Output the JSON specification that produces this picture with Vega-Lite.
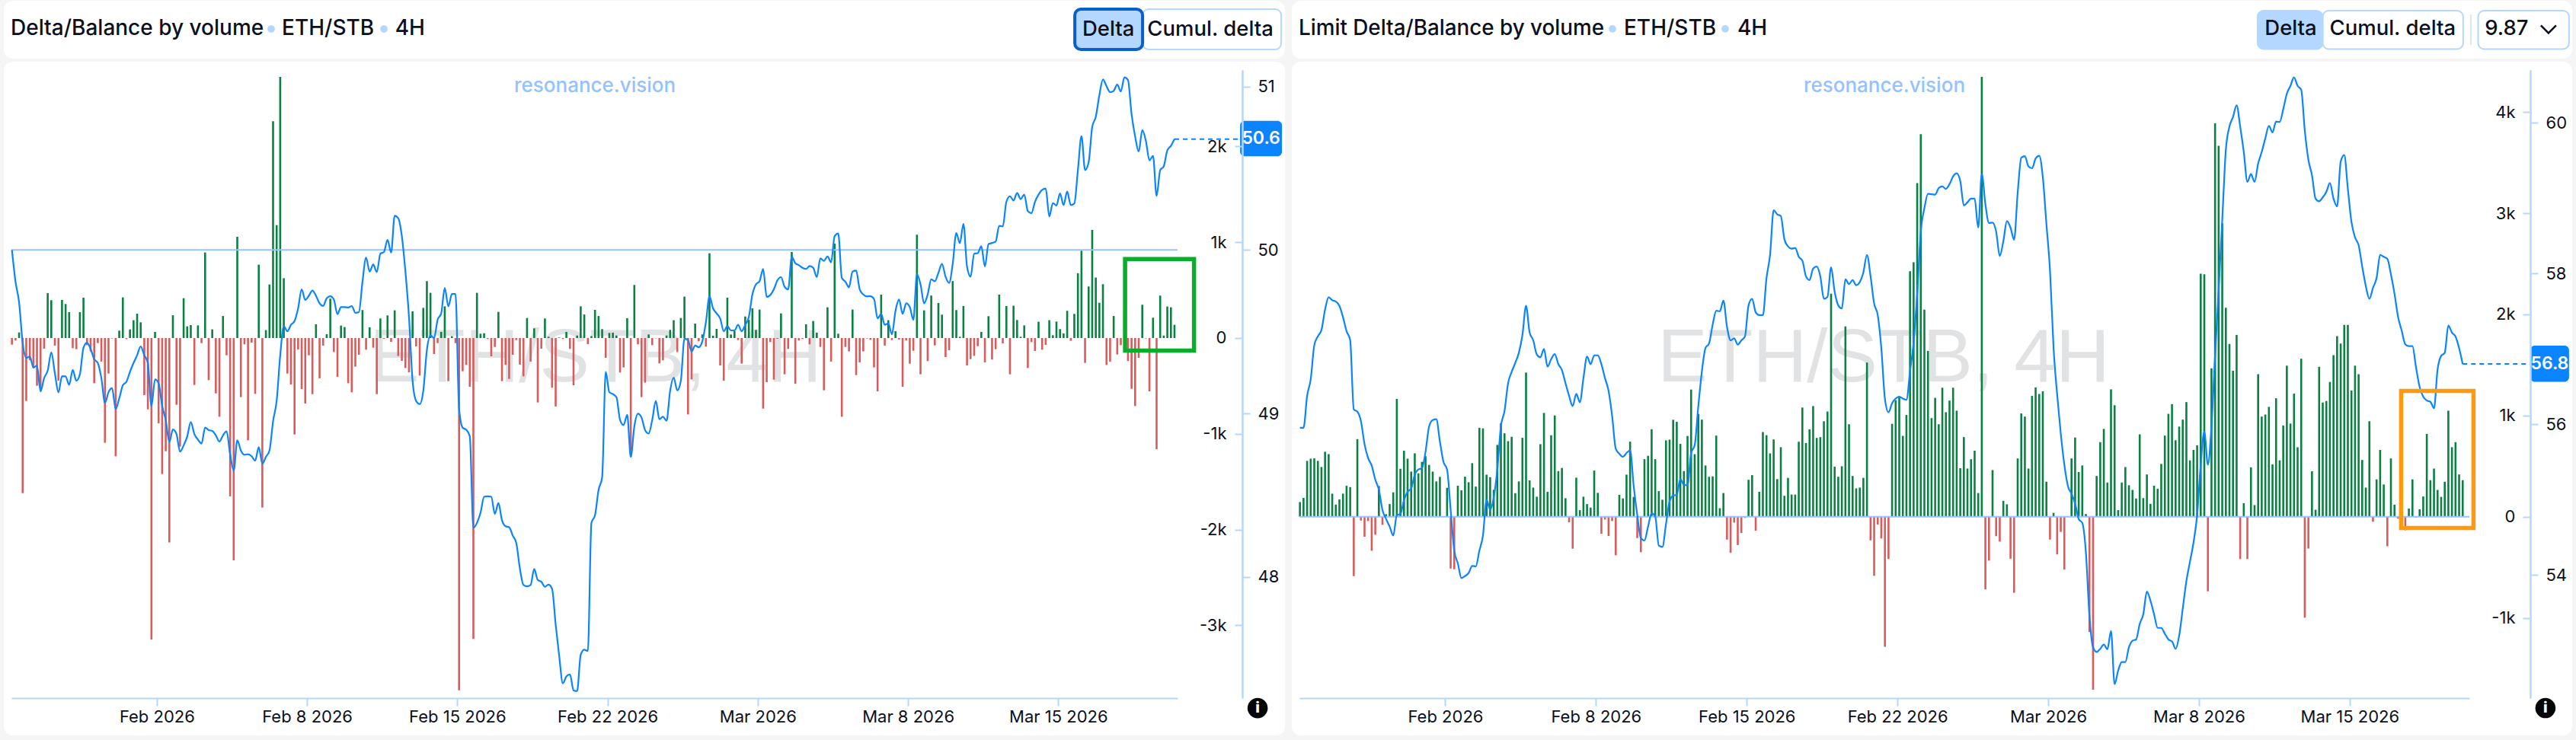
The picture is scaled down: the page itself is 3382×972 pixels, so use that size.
{"$schema":"https://vega.github.io/schema/vega-lite/v6.json","padding":0,"background":"#f5f5f6","spacing":0,"config":{"font":"Inter","view":{"stroke":null},"axis":{"labelFont":"Inter","labelFontSize":22,"labelColor":"#0b1020","domainColor":"#b3d7ff","tickColor":"#b3d7ff","domainWidth":2,"tickWidth":2,"tickSize":10,"grid":false,"title":null,"labelOverlap":false,"labelFlush":false}},
"datasets":{"one":[{}],
"left":[
{"t":"2026-01-25T06:00Z","d":-69,"b":50},{"t":"2026-01-25T10:00Z","d":-26,"b":49.806},{"t":"2026-01-25T14:00Z","d":58,"b":49.68},{"t":"2026-01-25T18:00Z","d":-1620,"b":49.433},{"t":"2026-01-25T22:00Z","d":-657,"b":49.34},
{"t":"2026-01-26T02:00Z","d":-233,"b":49.348},{"t":"2026-01-26T06:00Z","d":-312,"b":49.28},{"t":"2026-01-26T10:00Z","d":-498,"b":49.293},{"t":"2026-01-26T14:00Z","d":-551,"b":49.135},{"t":"2026-01-26T18:00Z","d":-111,"b":49.216},{"t":"2026-01-26T22:00Z","d":469,"b":49.262},
{"t":"2026-01-27T02:00Z","d":395,"b":49.374},{"t":"2026-01-27T06:00Z","d":-80,"b":49.247},{"t":"2026-01-27T10:00Z","d":-445,"b":49.129},{"t":"2026-01-27T14:00Z","d":398,"b":49.228},{"t":"2026-01-27T18:00Z","d":355,"b":49.227},{"t":"2026-01-27T22:00Z","d":270,"b":49.175},
{"t":"2026-01-28T02:00Z","d":-106,"b":49.266},{"t":"2026-01-28T06:00Z","d":-117,"b":49.2},{"t":"2026-01-28T10:00Z","d":270,"b":49.239},{"t":"2026-01-28T14:00Z","d":421,"b":49.402},{"t":"2026-01-28T18:00Z","d":-74,"b":49.433},{"t":"2026-01-28T22:00Z","d":-140,"b":49.394},
{"t":"2026-01-29T02:00Z","d":-472,"b":49.332},{"t":"2026-01-29T06:00Z","d":-53,"b":49.309},{"t":"2026-01-29T10:00Z","d":-246,"b":49.216},{"t":"2026-01-29T14:00Z","d":-1094,"b":49.064},{"t":"2026-01-29T18:00Z","d":-371,"b":49.13},{"t":"2026-01-29T22:00Z","d":-5,"b":49.154},
{"t":"2026-01-30T02:00Z","d":-1235,"b":49.026},{"t":"2026-01-30T06:00Z","d":77,"b":49.092},{"t":"2026-01-30T10:00Z","d":424,"b":49.172},{"t":"2026-01-30T14:00Z","d":-11,"b":49.193},{"t":"2026-01-30T18:00Z","d":90,"b":49.255},{"t":"2026-01-30T22:00Z","d":186,"b":49.309},
{"t":"2026-01-31T02:00Z","d":254,"b":49.356},{"t":"2026-01-31T06:00Z","d":164,"b":49.41},{"t":"2026-01-31T10:00Z","d":-596,"b":49.356},{"t":"2026-01-31T14:00Z","d":-745,"b":49.309},{"t":"2026-01-31T18:00Z","d":-3148,"b":49.045},{"t":"2026-01-31T22:00Z","d":64,"b":49.208},
{"t":"2026-02-01T02:00Z","d":-890,"b":49.185},{"t":"2026-02-01T06:00Z","d":-1420,"b":49.045},{"t":"2026-02-01T10:00Z","d":-1182,"b":48.96},{"t":"2026-02-01T14:00Z","d":-2134,"b":48.825},{"t":"2026-02-01T18:00Z","d":238,"b":48.902},{"t":"2026-02-01T22:00Z","d":-697,"b":48.874},
{"t":"2026-02-02T02:00Z","d":-1134,"b":48.766},{"t":"2026-02-02T06:00Z","d":416,"b":48.804},{"t":"2026-02-02T10:00Z","d":122,"b":48.859},{"t":"2026-02-02T14:00Z","d":135,"b":48.947},{"t":"2026-02-02T18:00Z","d":-490,"b":48.874},{"t":"2026-02-02T22:00Z","d":132,"b":48.84},
{"t":"2026-02-03T02:00Z","d":-53,"b":48.815},{"t":"2026-02-03T06:00Z","d":893,"b":48.913},{"t":"2026-02-03T10:00Z","d":-440,"b":48.898},{"t":"2026-02-03T14:00Z","d":90,"b":48.893},{"t":"2026-02-03T18:00Z","d":-578,"b":48.866},{"t":"2026-02-03T22:00Z","d":-822,"b":48.828},
{"t":"2026-02-04T02:00Z","d":230,"b":48.866},{"t":"2026-02-04T06:00Z","d":-180,"b":48.89},{"t":"2026-02-04T10:00Z","d":-1653,"b":48.75},{"t":"2026-02-04T14:00Z","d":-2321,"b":48.65},{"t":"2026-02-04T18:00Z","d":1057,"b":48.835},{"t":"2026-02-04T22:00Z","d":-617,"b":48.773},
{"t":"2026-02-05T02:00Z","d":-66,"b":48.747},{"t":"2026-02-05T06:00Z","d":-1068,"b":48.75},{"t":"2026-02-05T10:00Z","d":-48,"b":48.738},{"t":"2026-02-05T14:00Z","d":-583,"b":48.711},{"t":"2026-02-05T18:00Z","d":766,"b":48.793},{"t":"2026-02-05T22:00Z","d":-1770,"b":48.693},
{"t":"2026-02-06T02:00Z","d":82,"b":48.734},{"t":"2026-02-06T06:00Z","d":559,"b":48.773},{"t":"2026-02-06T10:00Z","d":2263,"b":48.952},{"t":"2026-02-06T14:00Z","d":1179,"b":49.076},{"t":"2026-02-06T18:00Z","d":2727,"b":49.356},{"t":"2026-02-06T22:00Z","d":625,"b":49.534},
{"t":"2026-02-07T02:00Z","d":-371,"b":49.503},{"t":"2026-02-07T06:00Z","d":-485,"b":49.542},{"t":"2026-02-07T10:00Z","d":-1007,"b":49.565},{"t":"2026-02-07T14:00Z","d":-119,"b":49.643},{"t":"2026-02-07T18:00Z","d":-533,"b":49.759},{"t":"2026-02-07T22:00Z","d":-684,"b":49.694},
{"t":"2026-02-08T02:00Z","d":-180,"b":49.72},{"t":"2026-02-08T06:00Z","d":-586,"b":49.752},{"t":"2026-02-08T10:00Z","d":143,"b":49.72},{"t":"2026-02-08T14:00Z","d":-421,"b":49.674},{"t":"2026-02-08T18:00Z","d":-80,"b":49.658},{"t":"2026-02-08T22:00Z","d":40,"b":49.705},
{"t":"2026-02-09T02:00Z","d":411,"b":49.717},{"t":"2026-02-09T06:00Z","d":-146,"b":49.697},{"t":"2026-02-09T10:00Z","d":-405,"b":49.607},{"t":"2026-02-09T14:00Z","d":130,"b":49.651},{"t":"2026-02-09T18:00Z","d":114,"b":49.651},{"t":"2026-02-09T22:00Z","d":-472,"b":49.648},
{"t":"2026-02-10T02:00Z","d":-567,"b":49.657},{"t":"2026-02-10T06:00Z","d":-299,"b":49.616},{"t":"2026-02-10T10:00Z","d":-175,"b":49.62},{"t":"2026-02-10T14:00Z","d":292,"b":49.806},{"t":"2026-02-10T18:00Z","d":-122,"b":49.953},{"t":"2026-02-10T22:00Z","d":111,"b":49.868},
{"t":"2026-02-11T02:00Z","d":-101,"b":49.911},{"t":"2026-02-11T06:00Z","d":-586,"b":49.865},{"t":"2026-02-11T10:00Z","d":204,"b":49.977},{"t":"2026-02-11T14:00Z","d":-8,"b":49.988},{"t":"2026-02-11T18:00Z","d":236,"b":50.062},{"t":"2026-02-11T22:00Z","d":-40,"b":49.984},
{"t":"2026-02-12T02:00Z","d":289,"b":50.21},{"t":"2026-02-12T06:00Z","d":-188,"b":50.194},{"t":"2026-02-12T10:00Z","d":-238,"b":50.085},{"t":"2026-02-12T14:00Z","d":-313,"b":49.868},{"t":"2026-02-12T18:00Z","d":-358,"b":49.589},{"t":"2026-02-12T22:00Z","d":278,"b":49.2},
{"t":"2026-02-13T02:00Z","d":-87,"b":49.076},{"t":"2026-02-13T06:00Z","d":-392,"b":49.057},{"t":"2026-02-13T10:00Z","d":315,"b":49.138},{"t":"2026-02-13T14:00Z","d":594,"b":49.387},{"t":"2026-02-13T18:00Z","d":472,"b":49.477},{"t":"2026-02-13T22:00Z","d":-167,"b":49.461},
{"t":"2026-02-14T02:00Z","d":-53,"b":49.573},{"t":"2026-02-14T06:00Z","d":64,"b":49.612},{"t":"2026-02-14T10:00Z","d":331,"b":49.767},{"t":"2026-02-14T14:00Z","d":-450,"b":49.655},{"t":"2026-02-14T18:00Z","d":19,"b":49.731},{"t":"2026-02-14T22:00Z","d":-53,"b":49.731},
{"t":"2026-02-15T02:00Z","d":-3678,"b":49.03},{"t":"2026-02-15T06:00Z","d":-347,"b":48.913},{"t":"2026-02-15T10:00Z","d":-281,"b":48.9},{"t":"2026-02-15T14:00Z","d":-509,"b":48.86},{"t":"2026-02-15T18:00Z","d":-3142,"b":48.299},{"t":"2026-02-15T22:00Z","d":472,"b":48.33},
{"t":"2026-02-16T02:00Z","d":45,"b":48.392},{"t":"2026-02-16T06:00Z","d":50,"b":48.49},{"t":"2026-02-16T10:00Z","d":-10,"b":48.493},{"t":"2026-02-16T14:00Z","d":-191,"b":48.49},{"t":"2026-02-16T18:00Z","d":-93,"b":48.385},{"t":"2026-02-16T22:00Z","d":273,"b":48.452},
{"t":"2026-02-17T02:00Z","d":-450,"b":48.346},{"t":"2026-02-17T06:00Z","d":-281,"b":48.31},{"t":"2026-02-17T10:00Z","d":-427,"b":48.304},{"t":"2026-02-17T14:00Z","d":-175,"b":48.253},{"t":"2026-02-17T18:00Z","d":-21,"b":48.206},{"t":"2026-02-17T22:00Z","d":-278,"b":48.051},
{"t":"2026-02-18T02:00Z","d":-400,"b":47.95},{"t":"2026-02-18T06:00Z","d":209,"b":47.942},{"t":"2026-02-18T10:00Z","d":-246,"b":47.95},{"t":"2026-02-18T14:00Z","d":101,"b":48.048},{"t":"2026-02-18T18:00Z","d":-673,"b":47.981},{"t":"2026-02-18T22:00Z","d":-111,"b":47.97},
{"t":"2026-02-19T02:00Z","d":204,"b":47.939},{"t":"2026-02-19T06:00Z","d":13,"b":47.953},{"t":"2026-02-19T10:00Z","d":-519,"b":47.927},{"t":"2026-02-19T14:00Z","d":-715,"b":47.709},{"t":"2026-02-19T18:00Z","d":5,"b":47.515},{"t":"2026-02-19T22:00Z","d":-10,"b":47.349},
{"t":"2026-02-20T02:00Z","d":64,"b":47.391},{"t":"2026-02-20T06:00Z","d":-114,"b":47.403},{"t":"2026-02-20T10:00Z","d":-493,"b":47.306},{"t":"2026-02-20T14:00Z","d":26,"b":47.301},{"t":"2026-02-20T18:00Z","d":331,"b":47.523},{"t":"2026-02-20T22:00Z","d":246,"b":47.554},
{"t":"2026-02-21T02:00Z","d":-64,"b":47.546},{"t":"2026-02-21T06:00Z","d":21,"b":48.33},{"t":"2026-02-21T10:00Z","d":294,"b":48.377},{"t":"2026-02-21T14:00Z","d":230,"b":48.532},{"t":"2026-02-21T18:00Z","d":93,"b":48.61},{"t":"2026-02-21T22:00Z","d":-207,"b":49.255},
{"t":"2026-02-22T02:00Z","d":53,"b":49.13},{"t":"2026-02-22T06:00Z","d":56,"b":49.118},{"t":"2026-02-22T10:00Z","d":26,"b":49.099},{"t":"2026-02-22T14:00Z","d":-360,"b":48.96},{"t":"2026-02-22T18:00Z","d":-307,"b":48.929},{"t":"2026-02-22T22:00Z","d":207,"b":48.991},
{"t":"2026-02-23T02:00Z","d":-1240,"b":48.734},{"t":"2026-02-23T06:00Z","d":554,"b":48.921},{"t":"2026-02-23T10:00Z","d":-66,"b":48.998},{"t":"2026-02-23T14:00Z","d":-617,"b":48.975},{"t":"2026-02-23T18:00Z","d":-466,"b":48.898},{"t":"2026-02-23T22:00Z","d":37,"b":48.877},
{"t":"2026-02-24T02:00Z","d":-74,"b":48.96},{"t":"2026-02-24T06:00Z","d":-3,"b":49.076},{"t":"2026-02-24T10:00Z","d":-265,"b":48.964},{"t":"2026-02-24T14:00Z","d":-233,"b":48.98},{"t":"2026-02-24T18:00Z","d":26,"b":48.955},{"t":"2026-02-24T22:00Z","d":85,"b":49.138},
{"t":"2026-02-25T02:00Z","d":186,"b":49.219},{"t":"2026-02-25T06:00Z","d":-146,"b":49.141},{"t":"2026-02-25T10:00Z","d":209,"b":49.2},{"t":"2026-02-25T14:00Z","d":432,"b":49.457},{"t":"2026-02-25T18:00Z","d":-798,"b":49.449},{"t":"2026-02-25T22:00Z","d":-432,"b":49.379},
{"t":"2026-02-26T02:00Z","d":151,"b":49.415},{"t":"2026-02-26T06:00Z","d":-34,"b":49.405},{"t":"2026-02-26T10:00Z","d":37,"b":49.441},{"t":"2026-02-26T14:00Z","d":-90,"b":49.557},{"t":"2026-02-26T18:00Z","d":885,"b":49.717},{"t":"2026-02-26T22:00Z","d":24,"b":49.643},
{"t":"2026-02-27T02:00Z","d":95,"b":49.612},{"t":"2026-02-27T06:00Z","d":-286,"b":49.581},{"t":"2026-02-27T10:00Z","d":-445,"b":49.503},{"t":"2026-02-27T14:00Z","d":421,"b":49.534},{"t":"2026-02-27T18:00Z","d":37,"b":49.508},{"t":"2026-02-27T22:00Z","d":72,"b":49.508},
{"t":"2026-02-28T02:00Z","d":-21,"b":49.542},{"t":"2026-02-28T06:00Z","d":-268,"b":49.503},{"t":"2026-02-28T10:00Z","d":225,"b":49.542},{"t":"2026-02-28T14:00Z","d":190,"b":49.589},{"t":"2026-02-28T18:00Z","d":310,"b":49.728},{"t":"2026-02-28T22:00Z","d":85,"b":49.79},
{"t":"2026-03-01T02:00Z","d":297,"b":49.809},{"t":"2026-03-01T06:00Z","d":-737,"b":49.884},{"t":"2026-03-01T10:00Z","d":-461,"b":49.713},{"t":"2026-03-01T14:00Z","d":-42,"b":49.724},{"t":"2026-03-01T18:00Z","d":-435,"b":49.759},{"t":"2026-03-01T22:00Z","d":-8,"b":49.814},
{"t":"2026-03-02T02:00Z","d":257,"b":49.834},{"t":"2026-03-02T06:00Z","d":-379,"b":49.775},{"t":"2026-03-02T10:00Z","d":-114,"b":49.759},{"t":"2026-03-02T14:00Z","d":898,"b":49.958},{"t":"2026-03-02T18:00Z","d":-477,"b":49.919},{"t":"2026-03-02T22:00Z","d":-26,"b":49.907},
{"t":"2026-03-03T02:00Z","d":-10,"b":49.891},{"t":"2026-03-03T06:00Z","d":143,"b":49.884},{"t":"2026-03-03T10:00Z","d":-66,"b":49.902},{"t":"2026-03-03T14:00Z","d":178,"b":49.891},{"t":"2026-03-03T18:00Z","d":56,"b":49.834},{"t":"2026-03-03T22:00Z","d":-93,"b":49.949},
{"t":"2026-03-04T02:00Z","d":-546,"b":49.933},{"t":"2026-03-04T06:00Z","d":321,"b":49.96},{"t":"2026-03-04T10:00Z","d":-246,"b":49.925},{"t":"2026-03-04T14:00Z","d":986,"b":50.085},{"t":"2026-03-04T18:00Z","d":45,"b":50.101},{"t":"2026-03-04T22:00Z","d":-822,"b":49.829},
{"t":"2026-03-05T02:00Z","d":-93,"b":49.806},{"t":"2026-03-05T06:00Z","d":-140,"b":49.772},{"t":"2026-03-05T10:00Z","d":297,"b":49.868},{"t":"2026-03-05T14:00Z","d":-387,"b":49.874},{"t":"2026-03-05T18:00Z","d":-254,"b":49.759},{"t":"2026-03-05T22:00Z","d":-140,"b":49.728},
{"t":"2026-03-06T02:00Z","d":-5,"b":49.716},{"t":"2026-03-06T06:00Z","d":-19,"b":49.717},{"t":"2026-03-06T10:00Z","d":-307,"b":49.7},{"t":"2026-03-06T14:00Z","d":-557,"b":49.581},{"t":"2026-03-06T18:00Z","d":453,"b":49.609},{"t":"2026-03-06T22:00Z","d":-80,"b":49.542},
{"t":"2026-03-07T02:00Z","d":186,"b":49.55},{"t":"2026-03-07T06:00Z","d":-21,"b":49.484},{"t":"2026-03-07T10:00Z","d":72,"b":49.627},{"t":"2026-03-07T14:00Z","d":-16,"b":49.697},{"t":"2026-03-07T18:00Z","d":-509,"b":49.609},{"t":"2026-03-07T22:00Z","d":-26,"b":49.674},
{"t":"2026-03-08T02:00Z","d":-268,"b":49.651},{"t":"2026-03-08T06:00Z","d":-133,"b":49.573},{"t":"2026-03-08T10:00Z","d":1079,"b":49.852},{"t":"2026-03-08T14:00Z","d":-379,"b":49.79},{"t":"2026-03-08T18:00Z","d":289,"b":49.674},{"t":"2026-03-08T22:00Z","d":-241,"b":49.728},
{"t":"2026-03-09T02:00Z","d":443,"b":49.821},{"t":"2026-03-09T06:00Z","d":-77,"b":49.809},{"t":"2026-03-09T10:00Z","d":366,"b":49.86},{"t":"2026-03-09T14:00Z","d":244,"b":49.915},{"t":"2026-03-09T18:00Z","d":-199,"b":49.837},{"t":"2026-03-09T22:00Z","d":-127,"b":49.798},
{"t":"2026-03-10T02:00Z","d":594,"b":49.915},{"t":"2026-03-10T06:00Z","d":292,"b":50.104},{"t":"2026-03-10T10:00Z","d":13,"b":50.042},{"t":"2026-03-10T14:00Z","d":334,"b":50.16},{"t":"2026-03-10T18:00Z","d":-286,"b":49.899},{"t":"2026-03-10T22:00Z","d":-220,"b":49.837},
{"t":"2026-03-11T02:00Z","d":-186,"b":49.977},{"t":"2026-03-11T06:00Z","d":-85,"b":49.981},{"t":"2026-03-11T10:00Z","d":64,"b":50.023},{"t":"2026-03-11T14:00Z","d":-254,"b":49.899},{"t":"2026-03-11T18:00Z","d":228,"b":50.036},{"t":"2026-03-11T22:00Z","d":-225,"b":50.043},
{"t":"2026-03-12T02:00Z","d":-117,"b":50.051},{"t":"2026-03-12T06:00Z","d":453,"b":50.148},{"t":"2026-03-12T10:00Z","d":-56,"b":50.144},{"t":"2026-03-12T14:00Z","d":334,"b":50.295},{"t":"2026-03-12T18:00Z","d":-379,"b":50.329},{"t":"2026-03-12T22:00Z","d":337,"b":50.303},
{"t":"2026-03-13T02:00Z","d":188,"b":50.349},{"t":"2026-03-13T06:00Z","d":13,"b":50.311},{"t":"2026-03-13T10:00Z","d":132,"b":50.339},{"t":"2026-03-13T14:00Z","d":-313,"b":50.238},{"t":"2026-03-13T18:00Z","d":-42,"b":50.225},{"t":"2026-03-13T22:00Z","d":-135,"b":50.295},
{"t":"2026-03-14T02:00Z","d":170,"b":50.339},{"t":"2026-03-14T06:00Z","d":-122,"b":50.368},{"t":"2026-03-14T10:00Z","d":-72,"b":50.376},{"t":"2026-03-14T14:00Z","d":186,"b":50.205},{"t":"2026-03-14T18:00Z","d":29,"b":50.287},{"t":"2026-03-14T22:00Z","d":172,"b":50.272},
{"t":"2026-03-15T02:00Z","d":93,"b":50.346},{"t":"2026-03-15T06:00Z","d":48,"b":50.275},{"t":"2026-03-15T10:00Z","d":284,"b":50.357},{"t":"2026-03-15T14:00Z","d":-29,"b":50.275},{"t":"2026-03-15T18:00Z","d":252,"b":50.284},{"t":"2026-03-15T22:00Z","d":676,"b":50.489},
{"t":"2026-03-16T02:00Z","d":912,"b":50.696},{"t":"2026-03-16T06:00Z","d":-260,"b":50.489},{"t":"2026-03-16T10:00Z","d":538,"b":50.536},{"t":"2026-03-16T14:00Z","d":1129,"b":50.753},{"t":"2026-03-16T18:00Z","d":631,"b":50.815},{"t":"2026-03-16T22:00Z","d":368,"b":50.947},
{"t":"2026-03-17T02:00Z","d":562,"b":51.043},{"t":"2026-03-17T06:00Z","d":-281,"b":51.002},{"t":"2026-03-17T10:00Z","d":-246,"b":50.966},{"t":"2026-03-17T14:00Z","d":230,"b":50.974},{"t":"2026-03-17T18:00Z","d":-172,"b":51.012},{"t":"2026-03-17T22:00Z","d":-74,"b":50.97},
{"t":"2026-03-18T02:00Z","d":250,"b":51.056},{"t":"2026-03-18T06:00Z","d":-241,"b":51.04},{"t":"2026-03-18T10:00Z","d":-530,"b":50.831},{"t":"2026-03-18T14:00Z","d":-710,"b":50.694},{"t":"2026-03-18T18:00Z","d":-207,"b":50.602},{"t":"2026-03-18T22:00Z","d":347,"b":50.734},
{"t":"2026-03-19T02:00Z","d":-5,"b":50.668},{"t":"2026-03-19T06:00Z","d":-557,"b":50.548},{"t":"2026-03-19T10:00Z","d":212,"b":50.575},{"t":"2026-03-19T14:00Z","d":-1161,"b":50.331},{"t":"2026-03-19T18:00Z","d":443,"b":50.489},{"t":"2026-03-19T22:00Z","d":26,"b":50.512},
{"t":"2026-03-20T02:00Z","d":329,"b":50.61},{"t":"2026-03-20T06:00Z","d":321,"b":50.637},{"t":"2026-03-20T10:00Z","d":138,"b":50.679}],
"right":[
{"t":"2026-01-25T06:00Z","d":145,"b":55.95},{"t":"2026-01-25T10:00Z","d":186,"b":55.95},{"t":"2026-01-25T14:00Z","d":552,"b":56.374},{"t":"2026-01-25T18:00Z","d":574,"b":56.593},{"t":"2026-01-25T22:00Z","d":577,"b":57.047},
{"t":"2026-01-26T02:00Z","d":552,"b":57.165},{"t":"2026-01-26T06:00Z","d":492,"b":57.249},{"t":"2026-01-26T10:00Z","d":642,"b":57.519},{"t":"2026-01-26T14:00Z","d":619,"b":57.684},{"t":"2026-01-26T18:00Z","d":228,"b":57.643},{"t":"2026-01-26T22:00Z","d":120,"b":57.626},
{"t":"2026-01-27T02:00Z","d":171,"b":57.569},{"t":"2026-01-27T06:00Z","d":228,"b":57.418},{"t":"2026-01-27T10:00Z","d":306,"b":57.232},{"t":"2026-01-27T14:00Z","d":293,"b":57.114},{"t":"2026-01-27T18:00Z","d":-587,"b":56.195},{"t":"2026-01-27T22:00Z","d":767,"b":56.165},
{"t":"2026-01-28T02:00Z","d":-38,"b":56.037},{"t":"2026-01-28T06:00Z","d":-198,"b":55.734},{"t":"2026-01-28T10:00Z","d":-43,"b":55.549},{"t":"2026-01-28T14:00Z","d":-336,"b":55.448},{"t":"2026-01-28T18:00Z","d":-178,"b":55.263},{"t":"2026-01-28T22:00Z","d":303,"b":55.128},
{"t":"2026-01-29T02:00Z","d":-80,"b":54.859},{"t":"2026-01-29T06:00Z","d":25,"b":54.741},{"t":"2026-01-29T10:00Z","d":125,"b":54.64},{"t":"2026-01-29T14:00Z","d":241,"b":54.522},{"t":"2026-01-29T18:00Z","d":1164,"b":54.791},{"t":"2026-01-29T22:00Z","d":474,"b":54.808},
{"t":"2026-01-30T02:00Z","d":652,"b":54.993},{"t":"2026-01-30T06:00Z","d":574,"b":55.101},{"t":"2026-01-30T10:00Z","d":446,"b":55.145},{"t":"2026-01-30T14:00Z","d":627,"b":55.33},{"t":"2026-01-30T18:00Z","d":429,"b":55.397},{"t":"2026-01-30T22:00Z","d":542,"b":55.414},
{"t":"2026-01-31T02:00Z","d":599,"b":55.633},{"t":"2026-01-31T06:00Z","d":512,"b":55.97},{"t":"2026-01-31T10:00Z","d":446,"b":56.054},{"t":"2026-01-31T14:00Z","d":349,"b":56.064},{"t":"2026-01-31T18:00Z","d":394,"b":55.768},{"t":"2026-01-31T22:00Z","d":-3,"b":55.498},
{"t":"2026-02-01T02:00Z","d":286,"b":55.397},{"t":"2026-02-01T06:00Z","d":-512,"b":54.859},{"t":"2026-02-01T10:00Z","d":-519,"b":54.32},{"t":"2026-02-01T14:00Z","d":306,"b":54.152},{"t":"2026-02-01T18:00Z","d":261,"b":53.956},{"t":"2026-02-01T22:00Z","d":396,"b":53.983},
{"t":"2026-02-02T02:00Z","d":341,"b":54.024},{"t":"2026-02-02T06:00Z","d":529,"b":54.118},{"t":"2026-02-02T10:00Z","d":298,"b":54.111},{"t":"2026-02-02T14:00Z","d":878,"b":54.32},{"t":"2026-02-02T18:00Z","d":873,"b":54.522},{"t":"2026-02-02T22:00Z","d":416,"b":54.993},
{"t":"2026-02-03T02:00Z","d":391,"b":54.865},{"t":"2026-02-03T06:00Z","d":266,"b":55.027},{"t":"2026-02-03T10:00Z","d":710,"b":55.397},{"t":"2026-02-03T14:00Z","d":925,"b":55.97},{"t":"2026-02-03T18:00Z","d":825,"b":56.172},{"t":"2026-02-03T22:00Z","d":747,"b":56.542},
{"t":"2026-02-04T02:00Z","d":790,"b":56.694},{"t":"2026-02-04T06:00Z","d":233,"b":56.812},{"t":"2026-02-04T10:00Z","d":349,"b":56.946},{"t":"2026-02-04T14:00Z","d":780,"b":57.182},{"t":"2026-02-04T18:00Z","d":1425,"b":57.569},{"t":"2026-02-04T22:00Z","d":359,"b":57.216},
{"t":"2026-02-05T02:00Z","d":288,"b":57.114},{"t":"2026-02-05T06:00Z","d":198,"b":56.923},{"t":"2026-02-05T10:00Z","d":717,"b":56.886},{"t":"2026-02-05T14:00Z","d":1026,"b":56.997},{"t":"2026-02-05T18:00Z","d":246,"b":56.761},{"t":"2026-02-05T22:00Z","d":805,"b":56.862},
{"t":"2026-02-06T02:00Z","d":1001,"b":56.929},{"t":"2026-02-06T06:00Z","d":451,"b":56.795},{"t":"2026-02-06T10:00Z","d":482,"b":56.717},{"t":"2026-02-06T14:00Z","d":183,"b":56.542},{"t":"2026-02-06T18:00Z","d":-55,"b":56.374},{"t":"2026-02-06T22:00Z","d":-316,"b":56.239},
{"t":"2026-02-07T02:00Z","d":386,"b":56.401},{"t":"2026-02-07T06:00Z","d":65,"b":56.29},{"t":"2026-02-07T10:00Z","d":198,"b":56.61},{"t":"2026-02-07T14:00Z","d":125,"b":56.896},{"t":"2026-02-07T18:00Z","d":90,"b":56.795},{"t":"2026-02-07T22:00Z","d":456,"b":56.912},
{"t":"2026-02-08T02:00Z","d":236,"b":56.912},{"t":"2026-02-08T06:00Z","d":-168,"b":56.795},{"t":"2026-02-08T10:00Z","d":-28,"b":56.61},{"t":"2026-02-08T14:00Z","d":-191,"b":56.441},{"t":"2026-02-08T18:00Z","d":-43,"b":56.104},{"t":"2026-02-08T22:00Z","d":-381,"b":55.673},
{"t":"2026-02-09T02:00Z","d":216,"b":55.606},{"t":"2026-02-09T06:00Z","d":181,"b":55.566},{"t":"2026-02-09T10:00Z","d":416,"b":55.616},{"t":"2026-02-09T14:00Z","d":742,"b":55.65},{"t":"2026-02-09T18:00Z","d":196,"b":55.178},{"t":"2026-02-09T22:00Z","d":-211,"b":54.791},
{"t":"2026-02-10T02:00Z","d":-351,"b":54.488},{"t":"2026-02-10T06:00Z","d":569,"b":54.455},{"t":"2026-02-10T10:00Z","d":602,"b":54.64},{"t":"2026-02-10T14:00Z","d":865,"b":54.818},{"t":"2026-02-10T18:00Z","d":569,"b":54.774},{"t":"2026-02-10T22:00Z","d":253,"b":54.387},
{"t":"2026-02-11T02:00Z","d":168,"b":54.37},{"t":"2026-02-11T06:00Z","d":755,"b":54.673},{"t":"2026-02-11T10:00Z","d":762,"b":54.976},{"t":"2026-02-11T14:00Z","d":958,"b":55.051},{"t":"2026-02-11T18:00Z","d":938,"b":55.061},{"t":"2026-02-11T22:00Z","d":720,"b":55.269},
{"t":"2026-02-12T02:00Z","d":451,"b":55.195},{"t":"2026-02-12T06:00Z","d":798,"b":55.189},{"t":"2026-02-12T10:00Z","d":1257,"b":55.616},{"t":"2026-02-12T14:00Z","d":618,"b":55.72},{"t":"2026-02-12T18:00Z","d":1017,"b":56.235},{"t":"2026-02-12T22:00Z","d":960,"b":56.698},
{"t":"2026-02-13T02:00Z","d":507,"b":57.008},{"t":"2026-02-13T06:00Z","d":395,"b":57.07},{"t":"2026-02-13T10:00Z","d":399,"b":57.317},{"t":"2026-02-13T14:00Z","d":802,"b":57.503},{"t":"2026-02-13T18:00Z","d":84,"b":57.497},{"t":"2026-02-13T22:00Z","d":234,"b":57.637},
{"t":"2026-02-14T02:00Z","d":-226,"b":57.291},{"t":"2026-02-14T06:00Z","d":-357,"b":57.111},{"t":"2026-02-14T10:00Z","d":-58,"b":57.137},{"t":"2026-02-14T14:00Z","d":-280,"b":57.054},{"t":"2026-02-14T18:00Z","d":-161,"b":57.111},{"t":"2026-02-14T22:00Z","d":-12,"b":57.162},
{"t":"2026-02-15T02:00Z","d":365,"b":57.575},{"t":"2026-02-15T06:00Z","d":411,"b":57.662},{"t":"2026-02-15T10:00Z","d":-138,"b":57.482},{"t":"2026-02-15T14:00Z","d":246,"b":57.446},{"t":"2026-02-15T18:00Z","d":837,"b":57.446},{"t":"2026-02-15T22:00Z","d":806,"b":57.936},
{"t":"2026-02-16T02:00Z","d":626,"b":58.245},{"t":"2026-02-16T06:00Z","d":764,"b":58.838},{"t":"2026-02-16T10:00Z","d":372,"b":58.781},{"t":"2026-02-16T14:00Z","d":687,"b":58.76},{"t":"2026-02-16T18:00Z","d":207,"b":58.451},{"t":"2026-02-16T22:00Z","d":384,"b":58.358},
{"t":"2026-02-17T02:00Z","d":219,"b":58.327},{"t":"2026-02-17T06:00Z","d":219,"b":58.338},{"t":"2026-02-17T10:00Z","d":741,"b":58.219},{"t":"2026-02-17T14:00Z","d":1079,"b":58.168},{"t":"2026-02-17T18:00Z","d":729,"b":57.961},{"t":"2026-02-17T22:00Z","d":864,"b":57.91},
{"t":"2026-02-18T02:00Z","d":1094,"b":58.064},{"t":"2026-02-18T06:00Z","d":779,"b":58.09},{"t":"2026-02-18T10:00Z","d":787,"b":57.961},{"t":"2026-02-18T14:00Z","d":944,"b":57.662},{"t":"2026-02-18T18:00Z","d":1040,"b":57.688},{"t":"2026-02-18T22:00Z","d":2204,"b":58.08},
{"t":"2026-02-19T02:00Z","d":495,"b":57.755},{"t":"2026-02-19T06:00Z","d":395,"b":57.575},{"t":"2026-02-19T10:00Z","d":499,"b":57.534},{"t":"2026-02-19T14:00Z","d":1881,"b":57.92},{"t":"2026-02-19T18:00Z","d":914,"b":57.858},{"t":"2026-02-19T22:00Z","d":403,"b":57.91},
{"t":"2026-02-20T02:00Z","d":280,"b":57.843},{"t":"2026-02-20T06:00Z","d":288,"b":57.884},{"t":"2026-02-20T10:00Z","d":384,"b":58.013},{"t":"2026-02-20T14:00Z","d":1524,"b":58.245},{"t":"2026-02-20T18:00Z","d":-234,"b":57.961},{"t":"2026-02-20T22:00Z","d":-584,"b":57.6},
{"t":"2026-02-21T02:00Z","d":-77,"b":57.446},{"t":"2026-02-21T06:00Z","d":-215,"b":57.008},{"t":"2026-02-21T10:00Z","d":-1286,"b":56.338},{"t":"2026-02-21T14:00Z","d":-418,"b":56.157},{"t":"2026-02-21T18:00Z","d":918,"b":56.276},{"t":"2026-02-21T22:00Z","d":1152,"b":56.338},
{"t":"2026-02-22T02:00Z","d":1190,"b":56.363},{"t":"2026-02-22T06:00Z","d":799,"b":56.338},{"t":"2026-02-22T10:00Z","d":1006,"b":56.322},{"t":"2026-02-22T14:00Z","d":2426,"b":56.698},{"t":"2026-02-22T18:00Z","d":2515,"b":57.085},{"t":"2026-02-22T22:00Z","d":3298,"b":57.729},
{"t":"2026-02-23T02:00Z","d":3781,"b":58.554},{"t":"2026-02-23T06:00Z","d":2046,"b":58.863},{"t":"2026-02-23T10:00Z","d":1639,"b":59.054},{"t":"2026-02-23T14:00Z","d":975,"b":59.049},{"t":"2026-02-23T18:00Z","d":1175,"b":59.044},{"t":"2026-02-23T22:00Z","d":914,"b":59.131},
{"t":"2026-02-24T02:00Z","d":1275,"b":59.152},{"t":"2026-02-24T06:00Z","d":1033,"b":59.121},{"t":"2026-02-24T10:00Z","d":1148,"b":59.183},{"t":"2026-02-24T14:00Z","d":1275,"b":59.286},{"t":"2026-02-24T18:00Z","d":1048,"b":59.327},{"t":"2026-02-24T22:00Z","d":480,"b":59.224},
{"t":"2026-02-25T02:00Z","d":787,"b":58.9},{"t":"2026-02-25T06:00Z","d":476,"b":58.941},{"t":"2026-02-25T10:00Z","d":568,"b":58.992},{"t":"2026-02-25T14:00Z","d":653,"b":58.992},{"t":"2026-02-25T18:00Z","d":234,"b":58.606},{"t":"2026-02-25T22:00Z","d":4347,"b":59.317},
{"t":"2026-02-26T02:00Z","d":-718,"b":58.915},{"t":"2026-02-26T06:00Z","d":-434,"b":58.668},{"t":"2026-02-26T10:00Z","d":461,"b":58.673},{"t":"2026-02-26T14:00Z","d":-192,"b":58.554},{"t":"2026-02-26T18:00Z","d":-246,"b":58.229},{"t":"2026-02-26T22:00Z","d":157,"b":58.425},
{"t":"2026-02-27T02:00Z","d":123,"b":58.693},{"t":"2026-02-27T06:00Z","d":-415,"b":58.606},{"t":"2026-02-27T10:00Z","d":-752,"b":58.446},{"t":"2026-02-27T14:00Z","d":576,"b":59.07},{"t":"2026-02-27T18:00Z","d":1021,"b":59.534},{"t":"2026-02-27T22:00Z","d":990,"b":59.554},
{"t":"2026-02-28T02:00Z","d":476,"b":59.42},{"t":"2026-02-28T06:00Z","d":1194,"b":59.394},{"t":"2026-02-28T10:00Z","d":1278,"b":59.523},{"t":"2026-02-28T14:00Z","d":1213,"b":59.559},{"t":"2026-02-28T18:00Z","d":1240,"b":59.276},{"t":"2026-02-28T22:00Z","d":346,"b":58.657},
{"t":"2026-03-01T02:00Z","d":-226,"b":58.039},{"t":"2026-03-01T06:00Z","d":38,"b":57.008},{"t":"2026-03-01T10:00Z","d":-372,"b":56.389},{"t":"2026-03-01T14:00Z","d":-150,"b":55.874},{"t":"2026-03-01T18:00Z","d":-522,"b":55.461},{"t":"2026-03-01T22:00Z","d":-4,"b":55.178},
{"t":"2026-03-02T02:00Z","d":576,"b":55.075},{"t":"2026-03-02T06:00Z","d":783,"b":54.946},{"t":"2026-03-02T10:00Z","d":441,"b":54.74},{"t":"2026-03-02T14:00Z","d":507,"b":54.688},{"t":"2026-03-02T18:00Z","d":27,"b":54.302},{"t":"2026-03-02T22:00Z","d":-1140,"b":53.451},
{"t":"2026-03-03T02:00Z","d":-1711,"b":53.039},{"t":"2026-03-03T06:00Z","d":403,"b":52.977},{"t":"2026-03-03T10:00Z","d":737,"b":53.018},{"t":"2026-03-03T14:00Z","d":868,"b":53.075},{"t":"2026-03-03T18:00Z","d":338,"b":53.013},{"t":"2026-03-03T22:00Z","d":1259,"b":53.255},
{"t":"2026-03-04T02:00Z","d":1102,"b":52.549},{"t":"2026-03-04T06:00Z","d":65,"b":52.73},{"t":"2026-03-04T10:00Z","d":338,"b":52.843},{"t":"2026-03-04T14:00Z","d":491,"b":52.843},{"t":"2026-03-04T18:00Z","d":311,"b":53.039},{"t":"2026-03-04T22:00Z","d":265,"b":53.126},
{"t":"2026-03-05T02:00Z","d":180,"b":53.142},{"t":"2026-03-05T06:00Z","d":814,"b":53.348},{"t":"2026-03-05T10:00Z","d":184,"b":53.477},{"t":"2026-03-05T14:00Z","d":418,"b":53.776},{"t":"2026-03-05T18:00Z","d":127,"b":53.657},{"t":"2026-03-05T22:00Z","d":307,"b":53.477},
{"t":"2026-03-06T02:00Z","d":276,"b":53.296},{"t":"2026-03-06T06:00Z","d":522,"b":53.296},{"t":"2026-03-06T10:00Z","d":802,"b":53.219},{"t":"2026-03-06T14:00Z","d":1017,"b":53.142},{"t":"2026-03-06T18:00Z","d":1113,"b":53.116},{"t":"2026-03-06T22:00Z","d":756,"b":53.018},
{"t":"2026-03-07T02:00Z","d":891,"b":53.193},{"t":"2026-03-07T06:00Z","d":960,"b":53.554},{"t":"2026-03-07T10:00Z","d":1133,"b":53.915},{"t":"2026-03-07T14:00Z","d":557,"b":54.173},{"t":"2026-03-07T18:00Z","d":660,"b":54.43},{"t":"2026-03-07T22:00Z","d":706,"b":54.791},
{"t":"2026-03-08T02:00Z","d":2403,"b":55.461},{"t":"2026-03-08T06:00Z","d":2396,"b":55.9},{"t":"2026-03-08T10:00Z","d":-737,"b":55.461},{"t":"2026-03-08T14:00Z","d":1467,"b":55.977},{"t":"2026-03-08T18:00Z","d":3889,"b":56.905},{"t":"2026-03-08T22:00Z","d":3666,"b":57.781},
{"t":"2026-03-09T02:00Z","d":2900,"b":58.709},{"t":"2026-03-09T06:00Z","d":2065,"b":59.637},{"t":"2026-03-09T10:00Z","d":1708,"b":59.946},{"t":"2026-03-09T14:00Z","d":1443,"b":60.075},{"t":"2026-03-09T18:00Z","d":1797,"b":60.229},{"t":"2026-03-09T22:00Z","d":-418,"b":59.946},
{"t":"2026-03-10T02:00Z","d":134,"b":59.611},{"t":"2026-03-10T06:00Z","d":-418,"b":59.214},{"t":"2026-03-10T10:00Z","d":488,"b":59.317},{"t":"2026-03-10T14:00Z","d":115,"b":59.214},{"t":"2026-03-10T18:00Z","d":1409,"b":59.456},{"t":"2026-03-10T22:00Z","d":990,"b":59.611},
{"t":"2026-03-11T02:00Z","d":1010,"b":59.791},{"t":"2026-03-11T06:00Z","d":1086,"b":59.956},{"t":"2026-03-11T10:00Z","d":518,"b":59.869},{"t":"2026-03-11T14:00Z","d":1171,"b":60.013},{"t":"2026-03-11T18:00Z","d":557,"b":60.008},{"t":"2026-03-11T22:00Z","d":902,"b":60.178},
{"t":"2026-03-12T02:00Z","d":1493,"b":60.384},{"t":"2026-03-12T06:00Z","d":921,"b":60.487},{"t":"2026-03-12T10:00Z","d":1217,"b":60.6},{"t":"2026-03-12T14:00Z","d":687,"b":60.487},{"t":"2026-03-12T18:00Z","d":1562,"b":60.436},{"t":"2026-03-12T22:00Z","d":-998,"b":59.894},
{"t":"2026-03-13T02:00Z","d":-315,"b":59.508},{"t":"2026-03-13T06:00Z","d":449,"b":59.302},{"t":"2026-03-13T10:00Z","d":69,"b":58.992},{"t":"2026-03-13T14:00Z","d":1482,"b":58.956},{"t":"2026-03-13T18:00Z","d":1129,"b":59.008},{"t":"2026-03-13T22:00Z","d":1144,"b":59.08},
{"t":"2026-03-14T02:00Z","d":1332,"b":59.198},{"t":"2026-03-14T06:00Z","d":1597,"b":58.992},{"t":"2026-03-14T10:00Z","d":1785,"b":58.889},{"t":"2026-03-14T14:00Z","d":1712,"b":59.482},{"t":"2026-03-14T18:00Z","d":1896,"b":59.57},{"t":"2026-03-14T22:00Z","d":1896,"b":59.121},
{"t":"2026-03-15T02:00Z","d":1248,"b":58.683},{"t":"2026-03-15T06:00Z","d":1493,"b":58.477},{"t":"2026-03-15T10:00Z","d":1409,"b":58.374},{"t":"2026-03-15T14:00Z","d":561,"b":58.09},{"t":"2026-03-15T18:00Z","d":288,"b":57.832},{"t":"2026-03-15T22:00Z","d":944,"b":57.662},
{"t":"2026-03-16T02:00Z","d":-50,"b":57.807},{"t":"2026-03-16T06:00Z","d":369,"b":57.936},{"t":"2026-03-16T10:00Z","d":660,"b":58.245},{"t":"2026-03-16T14:00Z","d":319,"b":58.219},{"t":"2026-03-16T18:00Z","d":-292,"b":58.193},{"t":"2026-03-16T22:00Z","d":576,"b":57.987},
{"t":"2026-03-17T02:00Z","d":119,"b":57.729},{"t":"2026-03-17T06:00Z","d":-19,"b":57.42},{"t":"2026-03-17T10:00Z","d":5,"b":57.24},{"t":"2026-03-17T14:00Z","d":-134,"b":57.059},{"t":"2026-03-17T18:00Z","d":81,"b":57.034},{"t":"2026-03-17T22:00Z","d":369,"b":57.034},
{"t":"2026-03-18T02:00Z","d":-8,"b":56.75},{"t":"2026-03-18T06:00Z","d":73,"b":56.492},{"t":"2026-03-18T10:00Z","d":200,"b":56.363},{"t":"2026-03-18T14:00Z","d":818,"b":56.312},{"t":"2026-03-18T18:00Z","d":361,"b":56.296},{"t":"2026-03-18T22:00Z","d":476,"b":56.209},
{"t":"2026-03-19T02:00Z","d":265,"b":56.724},{"t":"2026-03-19T06:00Z","d":196,"b":56.905},{"t":"2026-03-19T10:00Z","d":346,"b":56.946},{"t":"2026-03-19T14:00Z","d":1048,"b":57.307},{"t":"2026-03-19T18:00Z","d":687,"b":57.214},{"t":"2026-03-19T22:00Z","d":737,"b":57.162},
{"t":"2026-03-20T02:00Z","d":418,"b":57.008},{"t":"2026-03-20T06:00Z","d":361,"b":56.796}]
},
"hconcat":[
{"width":1531,"height":825,"resolve":{"scale":{"y":"independent"}},"layer":[
{"layer":[
{"data":{"name":"one"},"mark":{"type":"rect","color":"#f5f5f6"},"encoding":{"x":{"datum":1769275830000,"type":"temporal","scale":{"type":"utc","nice":false,"padding":0,"domain":[1769318760000,1774013160000]},"axis":{"title":null,"zindex":1,"values":[1769904000000,1770508800000,1771113600000,1771718400000,1772323200000,1772928000000,1773532800000],"labelExpr":"utcdate(datum.value)==1?utcFormat(datum.value,'%b %Y'):utcFormat(datum.value,'%b %-d %Y')","labelPadding":4}},"x2":{"datum":1774458113000},"y":{"datum":3529,"type":"quantitative","scale":{"domain":[-3760,2798],"nice":false,"zero":false},"axis":{"title":null,"zindex":1,"orient":"left","offset":-1616,"values":[-3000,-2000,-1000,0,1000,2000],"labelExpr":"datum.value==0?'0':(datum.value/1000)+'k'","labelPadding":11}},"y2":{"datum":-4197}}},
{"data":{"name":"one"},"mark":{"type":"rect","color":"#ffffff","cornerRadius":12},"encoding":{"x":{"datum":1769288096000,"type":"temporal"},"x2":{"datum":1774445848000},"y":{"datum":3521,"type":"quantitative"},"y2":{"datum":2917}}},
{"data":{"name":"one"},"mark":{"type":"rect","color":"#ffffff","cornerRadius":12},"encoding":{"x":{"datum":1769288096000,"type":"temporal"},"x2":{"datum":1774445848000},"y":{"datum":2886,"type":"quantitative"},"y2":{"datum":-4149}}},
{"data":{"name":"one"},"mark":{"type":"text","text":"Delta/Balance by volume","align":"left","baseline":"middle","fontSize":28,"fontWeight":500,"color":"#0b1020"},"encoding":{"x":{"datum":1769315694000,"type":"temporal"},"y":{"datum":3227,"type":"quantitative"}}},
{"data":{"name":"one"},"mark":{"type":"point","shape":"circle","filled":true,"color":"#b3d7ff","size":95,"opacity":1},"encoding":{"x":{"datum":1770364416000,"type":"temporal"},"y":{"datum":3227,"type":"quantitative"}}},
{"data":{"name":"one"},"mark":{"type":"text","text":"ETH/STB","align":"left","baseline":"middle","fontSize":28,"fontWeight":500,"color":"#0b1020"},"encoding":{"x":{"datum":1770407346000,"type":"temporal"},"y":{"datum":3227,"type":"quantitative"}}},
{"data":{"name":"one"},"mark":{"type":"point","shape":"circle","filled":true,"color":"#b3d7ff","size":95,"opacity":1},"encoding":{"x":{"datum":1770818249000,"type":"temporal"},"y":{"datum":3227,"type":"quantitative"}}},
{"data":{"name":"one"},"mark":{"type":"text","text":"4H","align":"left","baseline":"middle","fontSize":28,"fontWeight":500,"color":"#0b1020"},"encoding":{"x":{"datum":1770863019000,"type":"temporal"},"y":{"datum":3227,"type":"quantitative"}}},
{"data":{"name":"one"},"mark":{"type":"rect","fill":"#ffffff","stroke":"#b3d7ff","strokeWidth":2,"cornerRadius":8},"encoding":{"x":{"datum":1773872423000,"type":"temporal"},"x2":{"datum":1774430515000},"y":{"datum":3434,"type":"quantitative"},"y2":{"datum":3013}}},
{"data":{"name":"one"},"mark":{"type":"rect","fill":"#b3d7ff","stroke":"#0a5fd0","strokeWidth":4,"cornerRadius":8},"encoding":{"x":{"datum":1773599510000,"type":"temporal"},"x2":{"datum":1773872423000},"y":{"datum":3434,"type":"quantitative"},"y2":{"datum":3013}}},
{"data":{"name":"one"},"mark":{"type":"text","text":"Delta","baseline":"middle","fontSize":27.5,"fontWeight":500,"color":"#0b1020"},"encoding":{"x":{"datum":1773734434000,"type":"temporal"},"y":{"datum":3223,"type":"quantitative"}}},
{"data":{"name":"one"},"mark":{"type":"text","text":"Cumul. delta","baseline":"middle","fontSize":27.5,"fontWeight":500,"color":"#0b1020"},"encoding":{"x":{"datum":1774145337000,"type":"temporal"},"y":{"datum":3223,"type":"quantitative"}}},
{"data":{"name":"one"},"mark":{"type":"text","text":"resonance.vision","baseline":"middle","fontSize":26,"fontWeight":500,"color":"#93c2ff"},"encoding":{"x":{"datum":1771667653000,"type":"temporal"},"y":{"datum":2631,"type":"quantitative"}}},
{"data":{"name":"one"},"mark":{"type":"text","text":"ETH/STB, 4H","baseline":"middle","font":"Liberation Sans","fontSize":98,"color":"#e1e2e4"},"encoding":{"x":{"datum":1771670719000,"type":"temporal"},"y":{"datum":-223,"type":"quantitative"}}},
{"data":{"name":"left"},"mark":{"type":"bar","size":2.6},"encoding":{"x":{"field":"t","type":"temporal"},"y":{"field":"d","type":"quantitative","stack":null},"color":{"condition":{"test":"datum.d>=0","value":"#0a8043"},"value":"#d95c5c"}}}
]},
{"layer":[
{"data":{"name":"one"},"mark":{"type":"rule","color":"#94c3ff","strokeWidth":2},"encoding":{"y":{"datum":50,"type":"quantitative","scale":{"domain":[47.258,51.101],"nice":false,"zero":false},"axis":{"title":null,"zindex":1,"orient":"right","offset":85,"values":[48,49,50,51],"format":"d","labelPadding":10}}}},
{"data":{"name":"left"},"mark":{"type":"line","interpolate":"monotone","color":"#0a84ff","strokeWidth":2.2},"encoding":{"x":{"field":"t","type":"temporal"},"y":{"field":"b","type":"quantitative"}}},
{"data":{"name":"one"},"mark":{"type":"rule","color":"#0a84ff","strokeWidth":2,"strokeDash":[6,5]},"encoding":{"x":{"datum":1774000800000,"type":"temporal"},"x2":{"datum":1774264928000},"y":{"datum":50.678,"type":"quantitative"}}},
{"data":{"name":"one"},"mark":{"type":"rect","fillOpacity":0,"stroke":"#09ad2c","strokeWidth":5.5},"encoding":{"x":{"datum":1773801895000,"type":"temporal"},"x2":{"datum":1774079408000},"y":{"datum":49.945,"type":"quantitative"},"y2":{"datum":49.384}}},
{"data":{"name":"one"},"mark":{"type":"rect","color":"#0a84ff","cornerRadius":6},"encoding":{"x":{"datum":1774264928000,"type":"temporal"},"x2":{"datum":1774433582000},"y":{"datum":50.79,"type":"quantitative"},"y2":{"datum":50.574}}},
{"data":{"name":"one"},"mark":{"type":"text","text":"50.6","baseline":"middle","fontSize":23,"fontWeight":600,"color":"#ffffff"},"encoding":{"x":{"datum":1774349255000,"type":"temporal"},"y":{"datum":50.681,"type":"quantitative"}}},
{"data":{"name":"one"},"mark":{"type":"point","shape":"circle","filled":true,"color":"#05060a","size":707,"opacity":1},"encoding":{"x":{"datum":1774335456000,"type":"temporal"},"y":{"datum":47.197,"type":"quantitative"}}},
{"data":{"name":"one"},"mark":{"type":"text","text":"i","baseline":"middle","fontSize":20,"fontWeight":800,"color":"#ffffff"},"encoding":{"x":{"datum":1774335456000,"type":"temporal"},"y":{"datum":47.197,"type":"quantitative"}}}
]}
]},
{"width":1536,"height":825,"resolve":{"scale":{"y":"independent"}},"layer":[
{"layer":[
{"data":{"name":"one"},"mark":{"type":"rect","color":"#f5f5f6"},"encoding":{"x":{"datum":1769275976000,"type":"temporal","scale":{"type":"utc","nice":false,"padding":0,"domain":[1769318760000,1774013160000]},"axis":{"title":null,"zindex":1,"values":[1769904000000,1770508800000,1771113600000,1771718400000,1772323200000,1772928000000,1773532800000],"labelExpr":"utcdate(datum.value)==1?utcFormat(datum.value,'%b %Y'):utcFormat(datum.value,'%b %-d %Y')","labelPadding":4}},"x2":{"datum":1774446773000},"y":{"datum":5107,"type":"quantitative","scale":{"domain":[-1793,4415],"nice":false,"zero":false},"axis":{"title":null,"zindex":1,"orient":"left","offset":-1616,"values":[-1000,0,1000,2000,3000,4000],"labelExpr":"datum.value==0?'0':(datum.value/1000)+'k'","labelPadding":10}},"y2":{"datum":-2207}}},
{"data":{"name":"one"},"mark":{"type":"rect","color":"#ffffff","cornerRadius":12},"encoding":{"x":{"datum":1769288200000,"type":"temporal"},"x2":{"datum":1774425381000},"y":{"datum":5100,"type":"quantitative"},"y2":{"datum":4528}}},
{"data":{"name":"one"},"mark":{"type":"rect","color":"#ffffff","cornerRadius":12},"encoding":{"x":{"datum":1769288200000,"type":"temporal"},"x2":{"datum":1774425381000},"y":{"datum":4498,"type":"quantitative"},"y2":{"datum":-2162}}},
{"data":{"name":"one"},"mark":{"type":"text","text":"Limit Delta/Balance by volume","align":"left","baseline":"middle","fontSize":27.8,"fontWeight":500,"color":"#0b1020"},"encoding":{"x":{"datum":1769315704000,"type":"temporal"},"y":{"datum":4822,"type":"quantitative"}}},
{"data":{"name":"one"},"mark":{"type":"point","shape":"circle","filled":true,"color":"#b3d7ff","size":95,"opacity":1},"encoding":{"x":{"datum":1770574787000,"type":"temporal"},"y":{"datum":4822,"type":"quantitative"}}},
{"data":{"name":"one"},"mark":{"type":"text","text":"ETH/STB","align":"left","baseline":"middle","fontSize":28,"fontWeight":500,"color":"#0b1020"},"encoding":{"x":{"datum":1770620628000,"type":"temporal"},"y":{"datum":4822,"type":"quantitative"}}},
{"data":{"name":"one"},"mark":{"type":"point","shape":"circle","filled":true,"color":"#b3d7ff","size":95,"opacity":1},"encoding":{"x":{"datum":1771027079000,"type":"temporal"},"y":{"datum":4822,"type":"quantitative"}}},
{"data":{"name":"one"},"mark":{"type":"text","text":"4H","align":"left","baseline":"middle","fontSize":28,"fontWeight":500,"color":"#0b1020"},"encoding":{"x":{"datum":1771075976000,"type":"temporal"},"y":{"datum":4822,"type":"quantitative"}}},
{"data":{"name":"one"},"mark":{"type":"rect","fill":"#ffffff","stroke":"#b3d7ff","strokeWidth":2,"cornerRadius":8},"encoding":{"x":{"datum":1773424532000,"type":"temporal"},"x2":{"datum":1773988369000},"y":{"datum":5002,"type":"quantitative"},"y2":{"datum":4622}}},
{"data":{"name":"one"},"mark":{"type":"rect","fill":"#b3d7ff","stroke":"#b3d7ff","strokeWidth":2,"cornerRadius":8},"encoding":{"x":{"datum":1773163242000,"type":"temporal"},"x2":{"datum":1773424532000},"y":{"datum":5002,"type":"quantitative"},"y2":{"datum":4622}}},
{"data":{"name":"one"},"mark":{"type":"text","text":"Delta","baseline":"middle","fontSize":27.5,"fontWeight":500,"color":"#0b1020"},"encoding":{"x":{"datum":1773296485000,"type":"temporal"},"y":{"datum":4818,"type":"quantitative"}}},
{"data":{"name":"one"},"mark":{"type":"text","text":"Cumul. delta","baseline":"middle","fontSize":27.5,"fontWeight":500,"color":"#0b1020"},"encoding":{"x":{"datum":1773705381000,"type":"temporal"},"y":{"datum":4818,"type":"quantitative"}}},
{"data":{"name":"one"},"mark":{"type":"rule","color":"#d5e7fb","strokeWidth":2},"encoding":{"x":{"datum":1774018930000,"type":"temporal"},"y":{"datum":4964,"type":"quantitative"},"y2":{"datum":4663}}},
{"data":{"name":"one"},"mark":{"type":"rect","fill":"#ffffff","stroke":"#b3d7ff","strokeWidth":2,"cornerRadius":8},"encoding":{"x":{"datum":1774048267000,"type":"temporal"},"x2":{"datum":1774413157000},"y":{"datum":5002,"type":"quantitative"},"y2":{"datum":4622}}},
{"data":{"name":"one"},"mark":{"type":"text","text":"9.87","baseline":"middle","fontSize":27.5,"fontWeight":500,"color":"#0b1020"},"encoding":{"x":{"datum":1774162563000,"type":"temporal"},"y":{"datum":4818,"type":"quantitative"}}},
{"data":{"name":"one"},"mark":{"type":"point","shape":"M-1,-0.5L0,0.5L1,-0.5","filled":false,"stroke":"#0b1020","strokeWidth":2.5,"size":400,"opacity":1},"encoding":{"x":{"datum":1774330644000,"type":"temporal"},"y":{"datum":4818,"type":"quantitative"}}},
{"data":{"name":"one"},"mark":{"type":"text","text":"resonance.vision","baseline":"middle","fontSize":26,"fontWeight":500,"color":"#93c2ff"},"encoding":{"x":{"datum":1771665789000,"type":"temporal"},"y":{"datum":4257,"type":"quantitative"}}},
{"data":{"name":"one"},"mark":{"type":"text","text":"ETH/STB, 4H","baseline":"middle","font":"Liberation Sans","fontSize":98,"color":"#e1e2e4"},"encoding":{"x":{"datum":1771662733000,"type":"temporal"},"y":{"datum":1555,"type":"quantitative"}}},
{"data":{"name":"right"},"mark":{"type":"bar","size":2.6},"encoding":{"x":{"field":"t","type":"temporal"},"y":{"field":"d","type":"quantitative","stack":null},"color":{"condition":{"test":"datum.d>=0","value":"#0a8043"},"value":"#d95c5c"}}},
{"data":{"name":"one"},"mark":{"type":"rule","color":"#94c3ff","strokeWidth":2},"encoding":{"y":{"datum":0,"type":"quantitative"}}}
]},
{"layer":[
{"data":{"name":"right"},"mark":{"type":"line","interpolate":"monotone","color":"#0a84ff","strokeWidth":2.2},"encoding":{"x":{"field":"t","type":"temporal"},"y":{"field":"b","type":"quantitative","scale":{"domain":[52.364,60.697],"nice":false,"zero":false},"axis":{"title":null,"zindex":1,"orient":"right","offset":80,"values":[54,56,58,60],"format":"d","labelPadding":10}}}},
{"data":{"name":"one"},"mark":{"type":"rule","color":"#0a84ff","strokeWidth":2,"strokeDash":[6,5]},"encoding":{"x":{"datum":1773986400000,"type":"temporal"},"x2":{"datum":1774257300000},"y":{"datum":56.798,"type":"quantitative"}}},
{"data":{"name":"one"},"mark":{"type":"rect","fillOpacity":0,"stroke":"#ff9a0e","strokeWidth":5.5},"encoding":{"x":{"datum":1773739303000,"type":"temporal"},"x2":{"datum":1774029626000},"y":{"datum":56.439,"type":"quantitative"},"y2":{"datum":54.621}}},
{"data":{"name":"one"},"mark":{"type":"rect","color":"#0a84ff","cornerRadius":6},"encoding":{"x":{"datum":1774257300000,"type":"temporal"},"x2":{"datum":1774413157000},"y":{"datum":57.04,"type":"quantitative"},"y2":{"datum":56.561}}},
{"data":{"name":"one"},"mark":{"type":"text","text":"56.8","baseline":"middle","fontSize":23,"fontWeight":600,"color":"#ffffff"},"encoding":{"x":{"datum":1774335228000,"type":"temporal"},"y":{"datum":56.798,"type":"quantitative"}}},
{"data":{"name":"one"},"mark":{"type":"point","shape":"circle","filled":true,"color":"#05060a","size":707,"opacity":1},"encoding":{"x":{"datum":1774318420000,"type":"temporal"},"y":{"datum":52.232,"type":"quantitative"}}},
{"data":{"name":"one"},"mark":{"type":"text","text":"i","baseline":"middle","fontSize":20,"fontWeight":800,"color":"#ffffff"},"encoding":{"x":{"datum":1774318420000,"type":"temporal"},"y":{"datum":52.232,"type":"quantitative"}}}
]}
]}
]}
